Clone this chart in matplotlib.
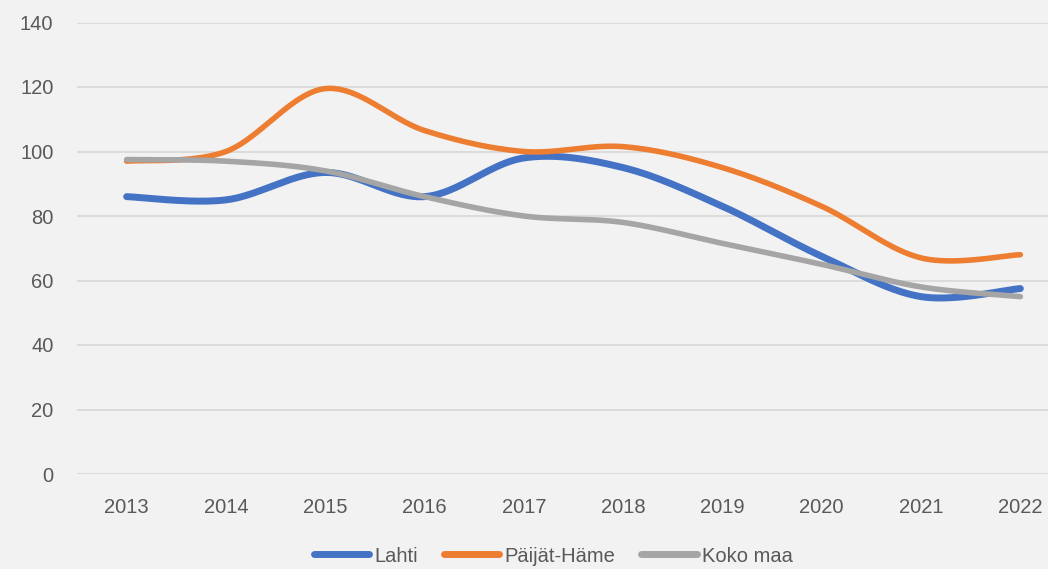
import numpy as np
import matplotlib
matplotlib.use("Agg")
import matplotlib.pyplot as plt

years = ["2013", "2014", "2015", "2016", "2017", "2018", "2019", "2020", "2021", "2022"]
lahti = [86, 85, 93.5, 86, 98, 95, 83, 67.5, 55, 57.5]
paijat_hame = [97, 100, 119.5, 106.5, 100, 101.5, 95, 83, 67, 68]
koko_maa = [97.5, 97, 94, 86, 80, 78, 71.5, 65, 58, 55]
series_names = ["Lahti", "Päijät-Häme", "Koko maa"]
colors = ["#4472c4", "#ed7d31", "#a5a5a5"]

plt.rcParams['font.family'] = ['Liberation Sans', 'DejaVu Sans']

def smooth(x, y, n=40):
    x = np.asarray(x, float); y = np.asarray(y, float)
    P = np.column_stack([x, y])
    P = np.vstack([P[0], P, P[-1]])
    out = []
    t = np.linspace(0, 1, n)
    for i in range(1, len(P) - 2):
        p0, p1, p2, p3 = P[i - 1], P[i], P[i + 1], P[i + 2]
        c1 = p1 + (p2 - p0) / 6.0
        c2 = p2 - (p3 - p1) / 6.0
        seg = ((1 - t)[:, None] ** 3) * p1 + 3 * ((1 - t) ** 2 * t)[:, None] * c1 \
            + 3 * ((1 - t) * t ** 2)[:, None] * c2 + (t ** 3)[:, None] * p2
        out.append(seg if i == 1 else seg[1:])
    S = np.vstack(out)
    return S[:, 0], S[:, 1]

W, H = 1048, 569
fig = plt.figure(figsize=(W / 100, H / 100), dpi=100, facecolor="#f2f2f2")
ax = fig.add_axes([77 / W, (H - 474) / H, 993 / W, (474 - 22.5) / H])
ax.set_facecolor("#f2f2f2")

xs = np.arange(len(years))
for vals, name, col, lw in zip([lahti, paijat_hame, koko_maa], series_names, colors, [5.0, 4.0, 4.0]):
    sx, sy = smooth(xs, vals)
    ax.plot(sx, sy, color=col, lw=lw, label=name, solid_capstyle="round", solid_joinstyle="round")

fs = 14.5
ax.set_xlim(-0.5, len(years) - 0.5)
ax.set_ylim(0, 140)
ax.set_yticks(np.arange(0, 141, 20))
ax.set_xticks(xs)
ax.set_xticklabels(years)
ax.grid(axis="y", color="#d9d9d9", lw=1.3)
ax.set_axisbelow(True)
for s in ax.spines.values():
    s.set_visible(False)
ax.tick_params(axis="both", length=0, colors="#595959", labelsize=fs)
ax.tick_params(axis="y", pad=17)
ax.tick_params(axis="x", pad=17)

leg = fig.legend(loc="center", bbox_to_anchor=(553 / W, 1 - 556 / H), ncol=3, frameon=False,
                 fontsize=fs, handlelength=2.75, handletextpad=0.25, columnspacing=1.3,
                 labelcolor="#595959")
for h in leg.get_lines():
    h.set_linewidth(5)
    h.set_solid_capstyle("round")

fig.savefig("out.png", dpi=100, facecolor="#f2f2f2")
